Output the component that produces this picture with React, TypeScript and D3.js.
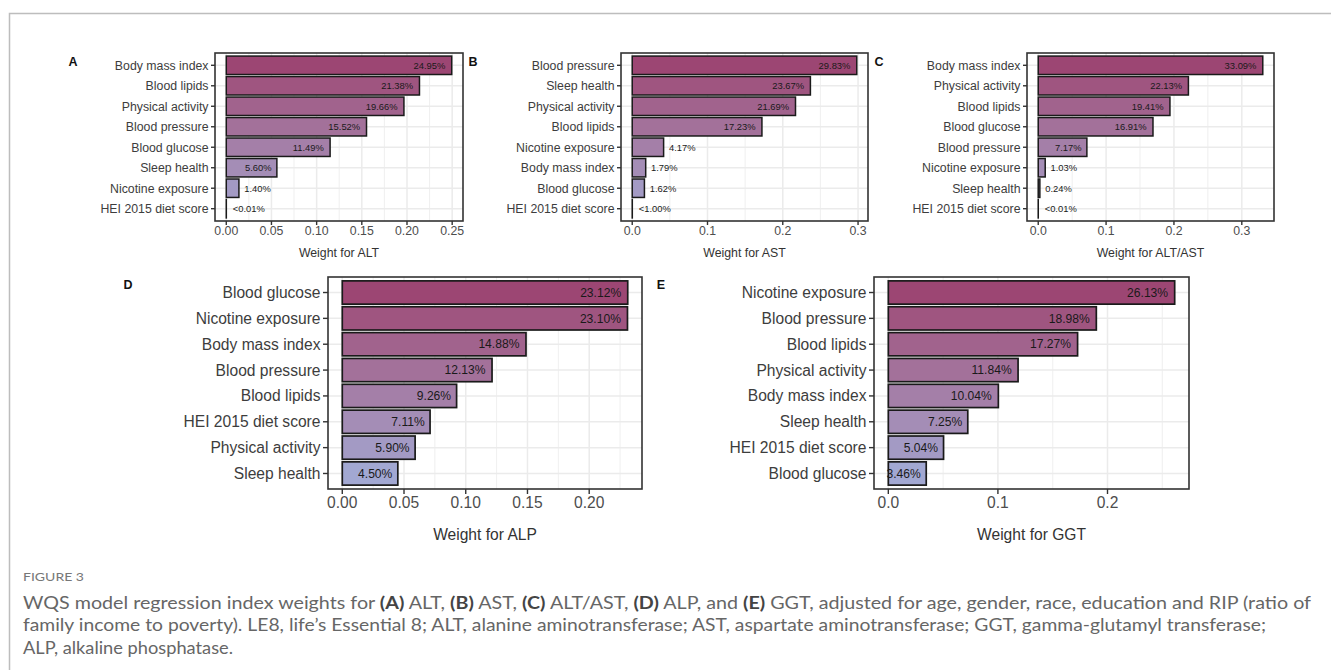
import React from "react";
import * as d3 from "d3";

// ---------- DATA ----------
const catsA = ["Body mass index", "Blood lipids", "Physical activity", "Blood pressure", "Blood glucose", "Sleep health", "Nicotine exposure", "HEI 2015 diet score"];
const valsA = [0.2495, 0.2138, 0.1966, 0.1552, 0.1149, 0.056, 0.014, 0.00005];
const labelsA = ["24.95%", "21.38%", "19.66%", "15.52%", "11.49%", "5.60%", "1.40%", "<0.01%"];
const ticksA = [0, 0.05, 0.1, 0.15, 0.2, 0.25];

const catsB = ["Blood pressure", "Sleep health", "Physical activity", "Blood lipids", "Nicotine exposure", "Body mass index", "Blood glucose", "HEI 2015 diet score"];
const valsB = [0.2983, 0.2367, 0.2169, 0.1723, 0.0417, 0.0179, 0.0162, 0.0001];
const labelsB = ["29.83%", "23.67%", "21.69%", "17.23%", "4.17%", "1.79%", "1.62%", "<1.00%"];
const ticksB = [0, 0.1, 0.2, 0.3];

const catsC = ["Body mass index", "Physical activity", "Blood lipids", "Blood glucose", "Blood pressure", "Nicotine exposure", "Sleep health", "HEI 2015 diet score"];
const valsC = [0.3309, 0.2213, 0.1941, 0.1691, 0.0717, 0.0103, 0.0024, 0.00005];
const labelsC = ["33.09%", "22.13%", "19.41%", "16.91%", "7.17%", "1.03%", "0.24%", "<0.01%"];
const ticksC = [0, 0.1, 0.2, 0.3];

const catsD = ["Blood glucose", "Nicotine exposure", "Body mass index", "Blood pressure", "Blood lipids", "HEI 2015 diet score", "Physical activity", "Sleep health"];
const valsD = [0.2312, 0.231, 0.1488, 0.1213, 0.0926, 0.0711, 0.059, 0.045];
const labelsD = ["23.12%", "23.10%", "14.88%", "12.13%", "9.26%", "7.11%", "5.90%", "4.50%"];
const ticksD = [0, 0.05, 0.1, 0.15, 0.2];

const catsE = ["Nicotine exposure", "Blood pressure", "Blood lipids", "Physical activity", "Body mass index", "Sleep health", "HEI 2015 diet score", "Blood glucose"];
const valsE = [0.2613, 0.1898, 0.1727, 0.1184, 0.1004, 0.0725, 0.0504, 0.0346];
const labelsE = ["26.13%", "18.98%", "17.27%", "11.84%", "10.04%", "7.25%", "5.04%", "3.46%"];
const ticksE = [0, 0.1, 0.2];

const captionLine1 = [
  { t: "WQS model regression index weights for ", b: false },
  { t: "(A)", b: true }, { t: " ALT, ", b: false },
  { t: "(B)", b: true }, { t: " AST, ", b: false },
  { t: "(C)", b: true }, { t: " ALT/AST, ", b: false },
  { t: "(D)", b: true }, { t: " ALP, and ", b: false },
  { t: "(E)", b: true }, { t: " GGT, adjusted for age, gender, race, education and RIP (ratio of", b: false },
];
const captionLine2 = "family income to poverty). LE8, life’s Essential 8; ALT, alanine aminotransferase; AST, aspartate aminotransferase; GGT, gamma-glutamyl transferase;";
const captionLine3 = "ALP, alkaline phosphatase.";

// ---------- LAYOUT ----------
const FONT = "'Liberation Sans', Arial, Helvetica, sans-serif";
const HI = "#9c4673";
const LO = "#a2a8d2";

type Row = {
  fs: number; vfs: number; tick: number; tickLblDy: number; titleDy: number; lineW: number; gap: number;
};
const topRow: Row = { fs: 12.3, vfs: 9.4, tick: 4, tickLblDy: 9.5, titleDy: 32, lineW: 1.5, gap: 0.2 };
const botRow: Row = { fs: 15.6, vfs: 12.1, tick: 5, tickLblDy: 14, titleDy: 46, lineW: 1.7, gap: 0.16 };

type Spec = {
  letter: string; lx: number; ly: number;
  cats: string[]; vals: number[]; labels: string[]; ticks: number[]; fmt: string;
  title: string; x0: number; x1: number; y0: number; y1: number; row: Row; allInside: boolean;
};

const panels: Spec[] = [
  { letter: "A", lx: 73, ly: 62, cats: catsA, vals: valsA, labels: labelsA, ticks: ticksA, fmt: ".2f", title: "Weight for ALT", x0: 215, x1: 463, y0: 53, y1: 221, row: topRow, allInside: false },
  { letter: "B", lx: 473, ly: 62, cats: catsB, vals: valsB, labels: labelsB, ticks: ticksB, fmt: ".1f", title: "Weight for AST", x0: 621, x1: 868, y0: 53, y1: 221, row: topRow, allInside: false },
  { letter: "C", lx: 879, ly: 62, cats: catsC, vals: valsC, labels: labelsC, ticks: ticksC, fmt: ".1f", title: "Weight for ALT/AST", x0: 1027, x1: 1274, y0: 53, y1: 221, row: topRow, allInside: false },
  { letter: "D", lx: 128, ly: 285, cats: catsD, vals: valsD, labels: labelsD, ticks: ticksD, fmt: ".2f", title: "Weight for ALP", x0: 328, x1: 642, y0: 277, y1: 489, row: botRow, allInside: true },
  { letter: "E", lx: 661, ly: 285, cats: catsE, vals: valsE, labels: labelsE, ticks: ticksE, fmt: ".1f", title: "Weight for GGT", x0: 874, x1: 1189, y0: 277, y1: 489, row: botRow, allInside: true },
];

let ctx: CanvasRenderingContext2D | null = null;
function textWidth(t: string, font: string) {
  if (!ctx) ctx = document.createElement("canvas").getContext("2d");
  if (!ctx) return t.length * 7;
  ctx.font = font;
  return ctx.measureText(t).width;
}

function Panel({ p }: { p: Spec }) {
  const max = d3.max(p.vals) as number;
  const x = d3.scaleLinear().domain([-0.05 * max, 1.05 * max]).range([p.x0, p.x1]);
  const n = p.cats.length;
  const y = d3.scaleLinear().domain([0.4, n + 0.6]).range([p.y0, p.y1]);
  const color = d3.scaleLinear<string>().domain([0, n - 1]).range([HI, LO]).interpolate(d3.interpolateLab);
  const step = p.ticks[1] - p.ticks[0];
  const [dmin, dmax] = x.domain();
  const minors = [p.ticks[0] - step / 2, ...p.ticks.map((t) => t + step / 2)].filter((m) => m >= dmin && m <= dmax);
  const fmt = d3.format(p.fmt);
  const r = p.row;
  const bh = y(1.9) - y(1);
  return (
    <g>
      <rect x={p.x0} y={p.y0} width={p.x1 - p.x0} height={p.y1 - p.y0} fill="#fff" />
      {minors.map((m, i) => (
        <line key={"mi" + i} x1={x(m)} x2={x(m)} y1={p.y0} y2={p.y1} stroke="#ebebeb" strokeWidth={0.8} />
      ))}
      {p.ticks.map((t, i) => (
        <line key={"ma" + i} x1={x(t)} x2={x(t)} y1={p.y0} y2={p.y1} stroke="#ebebeb" strokeWidth={1.5} />
      ))}
      {p.cats.map((c, i) => (
        <line key={"hy" + i} x1={p.x0} x2={p.x1} y1={y(i + 1)} y2={y(i + 1)} stroke="#ebebeb" strokeWidth={1.5} />
      ))}
      {p.vals.map((v, i) => (
        <rect key={"b" + i} x={x(0)} y={y(i + 1) - bh / 2} width={Math.max(0, x(v) - x(0))} height={bh}
          fill={color(i)} stroke="#1a1a1a" strokeWidth={r.lineW} />
      ))}
      {p.vals.map((v, i) => {
        const w = textWidth(p.labels[i], `${r.vfs}px 'Liberation Sans', Arial, sans-serif`);
        const inside = p.allInside || v >= 0.05;
        const xe = x(v);
        return (
          <text key={"vl" + i} x={inside ? xe - r.gap * w : xe + 0.2 * w} y={y(i + 1)} dy="0.35em"
            textAnchor={inside ? "end" : "start"} fontSize={r.vfs} fill="#1a1a1a" fontFamily={FONT}>
            {p.labels[i]}
          </text>
        );
      })}
      <rect x={p.x0} y={p.y0} width={p.x1 - p.x0} height={p.y1 - p.y0} fill="none" stroke="#333" strokeWidth={1.6} />
      {p.cats.map((c, i) => (
        <g key={"yc" + i}>
          <line x1={p.x0 - r.tick} x2={p.x0} y1={y(i + 1)} y2={y(i + 1)} stroke="#333" strokeWidth={1.4} />
          <text x={p.x0 - r.tick - 2.5} y={y(i + 1)} dy="0.35em" textAnchor="end" fontSize={r.fs} fill="#3d3d3d" fontFamily={FONT}>
            {c}
          </text>
        </g>
      ))}
      {p.ticks.map((t, i) => (
        <g key={"xt" + i}>
          <line x1={x(t)} x2={x(t)} y1={p.y1} y2={p.y1 + r.tick} stroke="#333" strokeWidth={1.4} />
          <text x={x(t)} y={p.y1 + r.tickLblDy} dy="0.35em" textAnchor="middle" fontSize={r.fs} fill="#4d4d4d" fontFamily={FONT}>
            {fmt(t)}
          </text>
        </g>
      ))}
      <text x={(p.x0 + p.x1) / 2} y={p.y1 + r.titleDy} dy="0.35em" textAnchor="middle" fontSize={r.fs} fill="#333" fontFamily={FONT}>
        {p.title}
      </text>
      <text x={p.lx} y={p.ly} dy="0.35em" textAnchor="middle" fontSize={12.5} fontWeight="bold" fill="#111" fontFamily={FONT}>
        {p.letter}
      </text>
    </g>
  );
}

const CAP_FONT = "Lato, 'Open Sans', sans-serif";
const CAP_FS = 16.5;
const capColor = "#666";

export default function App() {
  return (
    <svg width={1331} height={670} style={{ position: "absolute", left: 0, top: 0, background: "#fff" }}>
      <rect x={0} y={0} width={1331} height={670} fill="#fff" />
      <path d="M9.5,670 V13.5 H1331" fill="none" stroke="#bdbdbd" strokeWidth={1.5} />
      {panels.map((p) => (
        <Panel key={p.letter} p={p} />
      ))}
      <text x={23} y={581} fontSize={11} fill="#777" fontFamily={CAP_FONT} textLength={61} lengthAdjust="spacingAndGlyphs">
        FIGURE 3
      </text>
      <text x={23} y={608.5} fontSize={CAP_FS} fill={capColor} fontFamily={CAP_FONT} textLength={1288} lengthAdjust="spacingAndGlyphs">
        {captionLine1.map((seg, i) => (
          <tspan key={i} fontWeight={seg.b ? "bold" : "normal"} fill={seg.b ? "#444" : capColor}>{seg.t}</tspan>
        ))}
      </text>
      <text x={23} y={631} fontSize={CAP_FS} fill={capColor} fontFamily={CAP_FONT} textLength={1243} lengthAdjust="spacingAndGlyphs">
        {captionLine2}
      </text>
      <text x={23} y={653.5} fontSize={CAP_FS} fill={capColor} fontFamily={CAP_FONT} textLength={210} lengthAdjust="spacingAndGlyphs">
        {captionLine3}
      </text>
    </svg>
  );
}
